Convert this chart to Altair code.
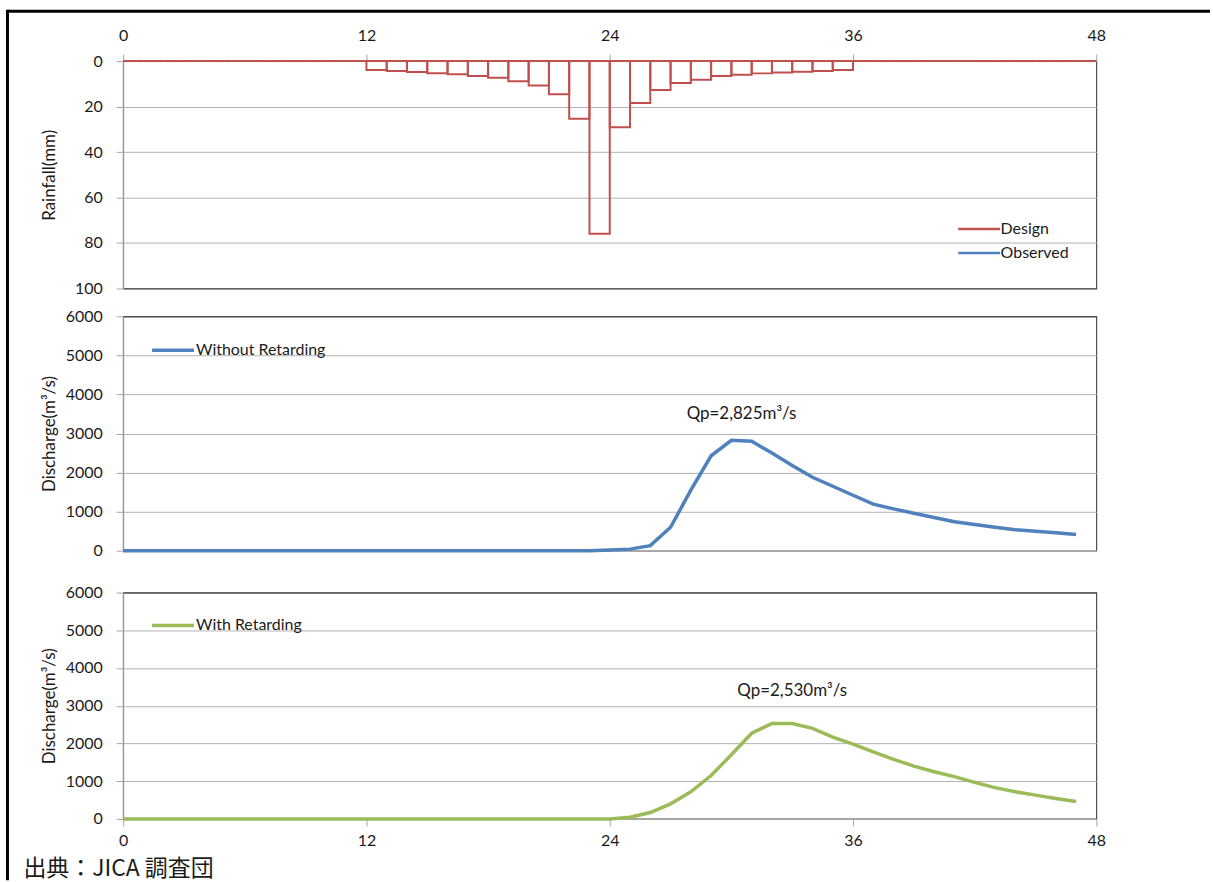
import altair as alt
import pandas as pd

# ---------------- data ----------------
hour_start = list(range(48))
hour_end = list(range(1, 49))
rain_mm = [0, 0, 0, 0, 0, 0, 0, 0, 0, 0, 0, 0,
           3.9, 4.4, 4.8, 5.3, 5.8, 6.6, 7.3, 8.9, 10.7, 14.6, 25.4, 75.9,
           29.1, 18.4, 12.7, 9.6, 8.2, 6.6, 6.0, 5.4, 5.0, 4.7, 4.4, 3.9,
           0, 0, 0, 0, 0, 0, 0, 0, 0, 0, 0, 0]
flow_hour = list(range(48))
q_without = [0, 0, 0, 0, 0, 0, 0, 0, 0, 0, 0, 0,
             0, 0, 0, 0, 0, 0, 0, 0, 0, 0, 0, 0,
             15, 40, 130, 600, 1550, 2430, 2825, 2800, 2500, 2180, 1880, 1650,
             1420, 1190, 1070, 960, 850, 740, 670, 600, 535, 500, 460, 415]
q_with = [0, 0, 0, 0, 0, 0, 0, 0, 0, 0, 0, 0,
          0, 0, 0, 0, 0, 0, 0, 0, 0, 0, 0, 0,
          0, 45, 170, 400, 720, 1150, 1700, 2270, 2530, 2530, 2400, 2170,
          1980, 1780, 1580, 1400, 1250, 1120, 970, 830, 720, 630, 540, 460]
peak_text = ["Qp=2,825m³/s", "Qp=2,530m³/s"]
peak_hour = [30.5, 33.0]
peak_level = [3500, 3380]
x_ticks = [0, 12, 24, 36, 48]
rain_ticks = [0, 20, 40, 60, 80, 100]
q_ticks = [0, 1000, 2000, 3000, 4000, 5000, 6000]
rain_series = ["Design", "Observed"]
source_text = "出典：JICA 調査団"

# ---------------- styles ----------------
RED, BLUE, GREEN = "#C0504D", "#4F81BD", "#9BBB59"
FONT = "Lato"
W = 976
H_TOP, H_MID, H_BOT = 228, 235, 227
AXIS_GRAY = "#a6a6a6"
GRID_GRAY = "#b3b3b3"
BORDER = "#4d4d4d"
TXT = "#1a1a1a"
LEG_SYMBOL = "M-1.75,0H1.75"
FRAME_X = -116

rain_df = pd.DataFrame({"start": hour_start, "end": hour_end, "rain": rain_mm,
                        "base": [0] * 48, "series": ["Design"] * 48})
mid_df = pd.DataFrame({"hour": flow_hour, "q": q_without,
                       "series": ["Without Retarding"] * 48})
bot_df = pd.DataFrame({"hour": flow_hour, "q": q_with,
                       "series": ["With Retarding"] * 48})
peak_mid = pd.DataFrame({"hour": [peak_hour[0]], "q": [peak_level[0]], "t": [peak_text[0]]})
peak_bot = pd.DataFrame({"hour": [peak_hour[1]], "q": [peak_level[1]], "t": [peak_text[1]]})
one = pd.DataFrame({"a": [0]})
src = pd.DataFrame({"t": [source_text]})

xscale = alt.Scale(domain=[0, 48], nice=False, zero=False)


def ytitle_axis(title, values, height, border_value):
    return dict(values=values, title=title, titleAngle=270, titleX=-74,
                titleY=height / 2, titleAlign="center", titleBaseline="middle",
                labelPadding=14, tickSize=7, format="d",
                gridColor={"condition": {"test": f"datum.value === {border_value}",
                                         "value": BORDER},
                           "value": GRID_GRAY})


def frame_segment(y1, y2):
    return alt.Chart(one).mark_rule(color="black", strokeWidth=3, strokeCap="square").encode(
        x=alt.value(FRAME_X), y=alt.value(y1), y2=alt.value(y2))


# ---------------- top panel: rainfall ----------------
top_x = alt.X("start:Q", scale=xscale, title=None,
              axis=alt.Axis(orient="top", values=x_ticks, grid=False, domain=False,
                            tickSize=7, labelPadding=11, labelFlush=False))
top_y = alt.Y("base:Q", scale=alt.Scale(domain=[0, 100], reverse=True, nice=False),
              axis=alt.Axis(**ytitle_axis("Rainfall(mm)", rain_ticks, H_TOP, 100)))
rain = alt.Chart(rain_df).mark_rect(fillOpacity=0, strokeWidth=2).encode(
    x=top_x, x2="end:Q", y=top_y, y2="rain:Q",
    stroke=alt.Stroke("series:N", scale=alt.Scale(domain=rain_series, range=[RED, BLUE]),
                      legend=alt.Legend(orient="none", legendX=845, legendY=155, title=None,
                                        symbolType=LEG_SYMBOL, symbolSize=576,
                                        symbolStrokeWidth=2.5, labelOffset=8, rowPadding=2,
                                        padding=0, labelFont=FONT, labelFontSize=16,
                                        labelColor=TXT)),
)
frame_top = alt.Chart(one).mark_rule(color="black", strokeWidth=3).encode(
    x=alt.value(FRAME_X), x2=alt.value(1090), y=alt.value(-50))
top = alt.layer(rain, frame_top, frame_segment(-50, H_TOP + 13.5)).properties(
    width=W, height=H_TOP)


# ---------------- discharge panels ----------------
def discharge_panel(df, peak_df, color, legend_y, bottom_axis, extras, height):
    if bottom_axis:
        xax = alt.Axis(values=x_ticks, grid=False, tickSize=7, labelPadding=7,
                       labelFlush=False)
    else:
        xax = alt.Axis(values=x_ticks, grid=False, ticks=False, labels=False)
    xenc = lambda f: alt.X(f, scale=xscale, title=None, axis=xax)
    yenc = lambda f: alt.Y(f, scale=alt.Scale(domain=[0, 6000], nice=False),
                           axis=alt.Axis(**ytitle_axis("Discharge(m³/s)", q_ticks,
                                                       height, 6000)))
    line = alt.Chart(df).mark_line(strokeWidth=3.5).encode(
        x=xenc("hour:Q"), y=yenc("q:Q"),
        stroke=alt.Stroke("series:N", scale=alt.Scale(range=[color]),
                          legend=alt.Legend(orient="none", legendX=36, legendY=legend_y,
                                            title=None, symbolType=LEG_SYMBOL, symbolSize=576,
                                            symbolStrokeWidth=3.5, labelOffset=9,
                                            rowPadding=0, padding=0, labelFont=FONT,
                                            labelFontSize=16, labelColor=TXT)),
    )
    txt = alt.Chart(peak_df).mark_text(font=FONT, fontSize=17, color=TXT).encode(
        x=xenc("hour:Q"), y=yenc("q:Q"), text="t:N")
    return alt.layer(line, txt, *extras).properties(width=W, height=height)


mid = discharge_panel(mid_df, peak_mid, BLUE, 20, False,
                      [frame_segment(-12, H_MID + 21)], H_MID)
footer = alt.Chart(src).mark_text(align="left", baseline="bottom", fontSize=23,
                                  font="Noto Sans CJK JP", color=TXT).encode(
    x=alt.value(-100), y=alt.value(289), text="t:N")
bot = discharge_panel(bot_df, peak_bot, GREEN, 19, True,
                      [frame_segment(-19, 287), footer], H_BOT)

chart = alt.vconcat(top, mid, bot, spacing=-4).resolve_scale(
    stroke="independent", y="independent").resolve_legend(stroke="independent")

chart = chart.properties(
    padding={"left": 4.5, "top": 7, "right": 0, "bottom": 0},
    background="white",
).configure_view(
    stroke=BORDER, strokeWidth=1.2
).configure_axis(
    domainColor=AXIS_GRAY, tickColor=AXIS_GRAY,
    labelFont=FONT, labelFontSize=16, labelColor=TXT,
    titleFont=FONT, titleFontSize=17, titleColor=TXT, titleFontWeight="normal",
)

chart.save("out.html", embed_options={"renderer": "svg", "actions": False})
